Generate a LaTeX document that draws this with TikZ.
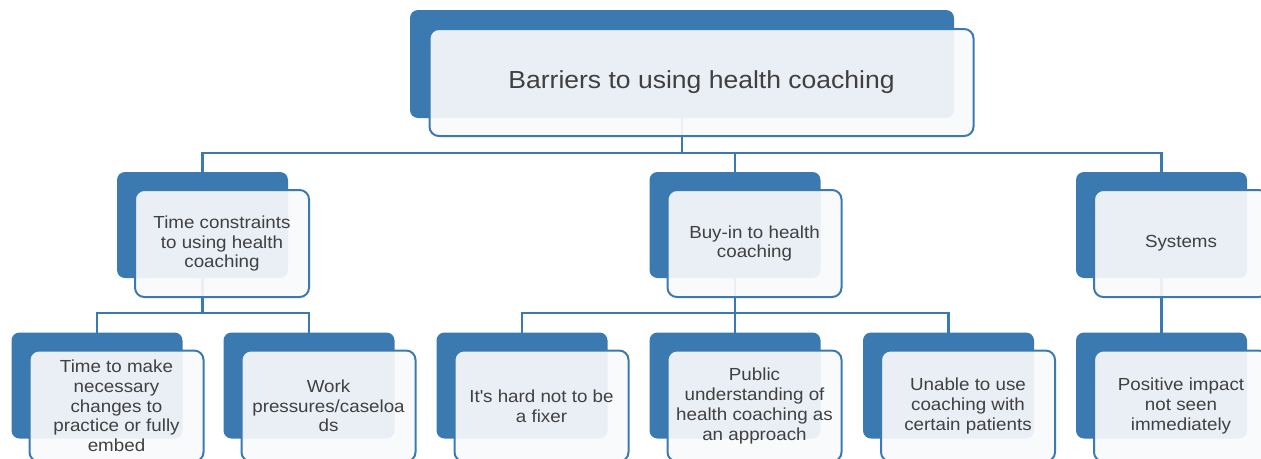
\documentclass[tikz,border=0pt]{standalone}
\usepackage{fontspec}
\setmainfont[FakeStretch=1.075]{Liberation Sans}
\definecolor{smartblue}{RGB}{58,122,176}
\definecolor{boxfill}{RGB}{249,250,251}
\definecolor{boxtext}{RGB}{64,64,64}
\begin{document}
\begin{tikzpicture}[x=0.75pt,y=-0.75pt,
	backbox/.style={rectangle,rounded corners=6pt,fill=smartblue,
		minimum width=128.25pt,minimum height=79.5pt,inner sep=0,outer sep=0},
	frontbox/.style={rectangle,rounded corners=7pt,draw=smartblue,line width=1.5pt,
		fill=boxfill,fill opacity=0.92,text opacity=1,text=boxtext,
		minimum width=130.5pt,minimum height=80.25pt,inner sep=2pt,align=center,
		font=\fontsize{13.1pt}{14.8pt}\selectfont},
	lowbox/.style={frontbox,minimum height=83.25pt},
	link/.style={draw=smartblue,line width=1.6pt}]
\useasboundingbox (0,0) rectangle (1261,458);
% back boxes
\node[backbox,minimum width=408pt,minimum height=81pt] (rootb) at (682,64) {};
\node[backbox] (timeb) at (202.5,225) {};
\node[backbox] (buyinb) at (735,225) {};
\node[backbox] (sysb) at (1161.5,225) {};
\node[backbox] (makeb) at (97,385.5) {};
\node[backbox] (workb) at (309,385.5) {};
\node[backbox] (fixerb) at (522,385.5) {};
\node[backbox] (publicb) at (735,385.5) {};
\node[backbox] (unableb) at (948.5,385.5) {};
\node[backbox] (impactb) at (1161.5,385.5) {};
% connectors
\draw[link] (rootb.south) -- ++(0,35) -| (timeb.north);
\draw[link] (rootb.south) -- ++(0,35) -| (buyinb.north);
\draw[link] (rootb.south) -- ++(0,35) -| (sysb.north);
\draw[link] (timeb.south) -- ++(0,35) -| (makeb.north);
\draw[link] (timeb.south) -- ++(0,35) -| (workb.north);
\draw[link] (buyinb.south) -- ++(0,35) -| (fixerb.north);
\draw[link] (buyinb.south) -- ++(0,35) -| (publicb.north);
\draw[link] (buyinb.south) -- ++(0,35) -| (unableb.north);
\draw[link] (sysb.south) -- (impactb.north);
% front boxes
\node[frontbox,minimum width=408pt,font=\fontsize{18.5pt}{22pt}\selectfont] (root)
	at ([shift={(19.5,18.5)}]rootb.center) {Barriers to using health coaching};
\node[frontbox] (time) at ([shift={(19.5,18.5)}]timeb.center)
	{Time constraints\\to using health\\coaching};
\node[frontbox] (buyin) at ([shift={(19.5,18.5)}]buyinb.center)
	{Buy-in to health\\coaching};
\node[frontbox] (sys) at ([shift={(19.5,18.5)}]sysb.center) {Systems};
\node[lowbox] (make) at ([shift={(19.5,20.5)}]makeb.center)
	{Time to make\\necessary\\changes to\\practice or fully\\embed};
\node[lowbox] (work) at ([shift={(19.5,20.5)}]workb.center)
	{Work\\pressures/caseloa\\ds};
\node[lowbox] (fixer) at ([shift={(19.5,20.5)}]fixerb.center)
	{It\textquotesingle s hard not to be\\a fixer};
\node[lowbox] (public) at ([shift={(19.5,20.5)}]publicb.center)
	{Public\\understanding of\\health coaching as\\an approach};
\node[lowbox] (unable) at ([shift={(19.5,20.5)}]unableb.center)
	{Unable to use\\coaching with\\certain patients};
\node[lowbox] (impact) at ([shift={(19.5,20.5)}]impactb.center)
	{Positive impact\\not seen\\immediately};
\end{tikzpicture}
\end{document}
